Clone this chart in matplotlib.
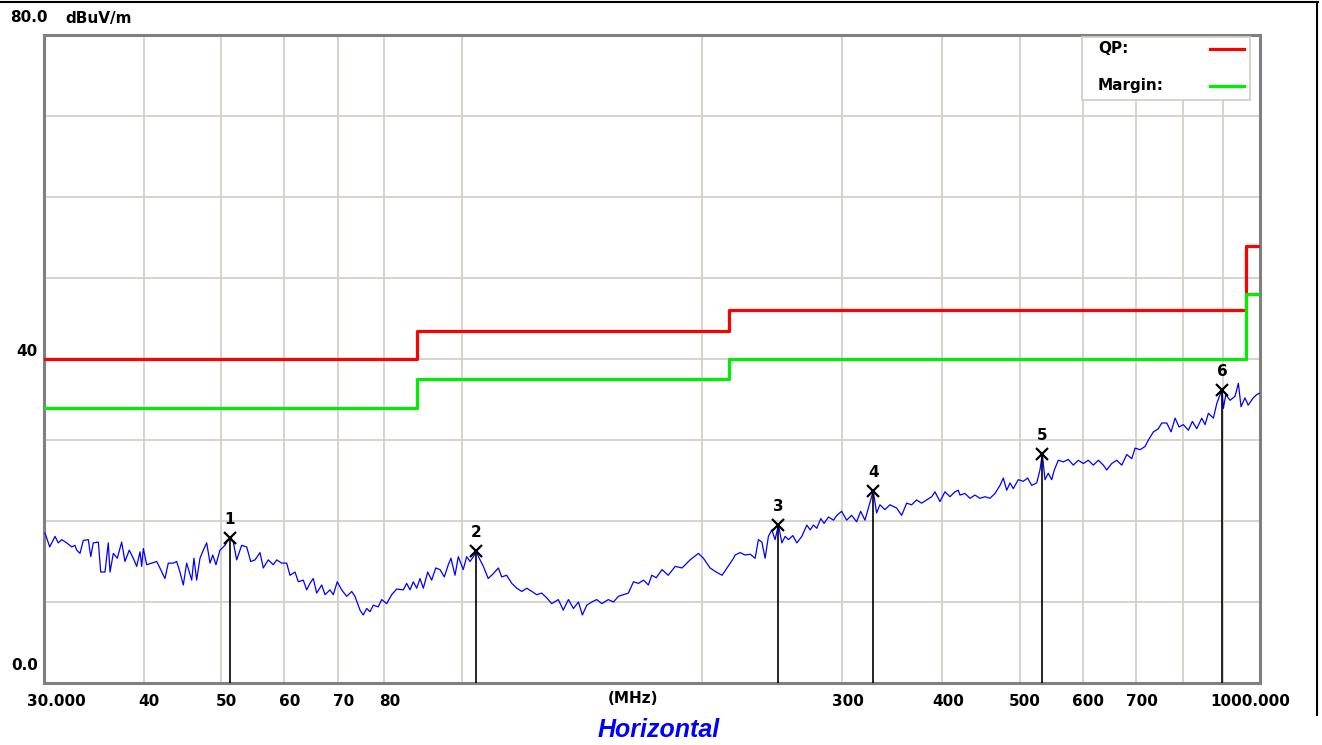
import matplotlib
matplotlib.use("Agg")
import matplotlib.pyplot as plt
from matplotlib.lines import Line2D
from matplotlib.patches import Rectangle
from matplotlib.transforms import offset_copy

# ===============================
# Data
# ===============================
trace_freq = [
    30.09, 30.5, 30.97, 31.26, 31.57, 32.03, 32.5, 32.8, 32.97, 33.28, 33.6, 34.09, 34.33, 34.58,
    35.09, 35.33, 35.77, 36.11, 36.29, 36.64, 37.06, 37.53, 37.89, 38.36, 38.81, 39.19, 39.57,
    39.76, 39.95, 40.34, 40.92, 41.52, 41.91, 42.52, 42.93, 43.55, 43.98, 44.4, 44.83, 45.27,
    45.93, 46.23, 46.59, 47.04, 47.49, 47.96, 48.42, 48.8, 49.26, 49.83, 50.56, 51.19, 51.78,
    52.29, 53.05, 53.82, 54.45, 55.13, 55.93, 56.46, 57.28, 58.11, 58.69, 59.54, 60.4, 60.98,
    61.87, 62.46, 63.36, 63.99, 64.6, 65.22, 65.86, 66.82, 67.46, 68.44, 69.09, 69.89, 70.78, 71.81,
    72.86, 73.55, 74.62, 75.33, 76.07, 76.8, 77.53, 78.66, 79.44, 80.59, 81.76, 82.95, 84.55,
    85.38, 86.2, 87.02, 87.88, 88.72, 89.57, 90.71, 91.76, 92.83, 93.99, 95.16, 96.26, 97.01,
    98.14, 99.08, 100.5, 101.5, 102.5, 103.8, 104.3, 105.0, 106.5, 108.0, 109.6, 111.2, 112.3,
    113.9, 115.6, 117.3, 119.0, 120.7, 122.5, 124.2, 126.0, 127.9, 129.7, 132.2, 134.1, 136.1,
    138.1, 140.1, 141.7, 143.5, 145.6, 147.7, 149.9, 152.7, 155.0, 157.2, 159.5, 161.8, 164.2,
    166.6, 169.0, 171.4, 173.1,
    175.3, 178.3, 181.5, 185.2, 188.9, 193.3, 198.0, 200.9, 204.8, 208.4, 212.0, 215.7, 219.1,
    220.1, 223.3, 226.6, 229.9, 233.2, 235.4, 237.8, 240.0, 242.3, 244.7, 247.0, 249.4, 251.9,
    254.3, 256.7, 260.0, 263.0, 266.8, 270.7, 273.3, 275.9, 278.6, 281.8, 284.5, 288.1, 292.3,
    295.2, 299.3, 303.6, 308.0, 312.5, 316.1, 320.1, 324.1, 327.8, 331.0, 334.2, 339.1, 344.0,
    350.7, 355.8, 361.0, 366.2, 371.5, 376.9, 382.4, 388.0, 391.7, 397.4, 403.1, 409.0, 414.9, 418.9,
    421.0, 427.1, 433.3, 439.6, 446.0, 452.5, 459.0, 465.7, 472.5, 477.0, 481.7, 486.3, 490.9,
    498.1, 505.3, 511.7, 517.7, 525.2, 530.2, 533.8, 537.9, 543.1, 548.4, 552.6, 559.0, 567.1,
    575.3, 583.7, 592.2, 600.8, 609.5, 618.4, 627.4, 636.5, 642.8, 652.1, 661.6, 671.2, 681.0,
    690.9, 697.5, 707.6, 717.9, 724.8, 735.3, 746.0, 753.3, 764.3, 773.8, 782.8, 791.9, 801.7,
    813.4, 822.8, 833.3, 845.4, 853.5, 861.7, 874.2, 882.8, 896.0, 899.8, 906.0, 917.3, 930.6,
    939.5, 946.8, 957.5, 966.6, 980.7, 990.4, 1000.0,
]
trace_level = [
    18.5, 16.8, 18.1, 17.3, 17.7, 17.3, 16.8, 17.0, 16.4, 16.0, 17.6, 17.7, 15.6, 17.3,
    17.4, 13.7, 13.7, 17.3, 13.7, 16.0, 15.4, 17.4, 15.0, 16.4, 15.4, 14.4, 16.2,
    14.4, 16.6, 14.6, 14.8, 15.0, 14.2, 12.9, 14.8, 14.8, 15.0, 13.7, 12.1, 14.8,
    12.7, 15.4, 12.7, 15.4, 16.4, 17.3, 14.8, 15.8, 14.6, 16.4, 17.0, 17.9, 17.4,
    15.2, 17.0, 16.8, 15.0, 15.2, 16.1, 14.2, 15.2, 14.6, 15.2, 14.8, 14.8, 13.3,
    13.7, 12.5, 12.7, 11.5, 12.3, 12.9, 11.1, 12.1, 10.9, 11.5, 10.9, 12.5, 11.5, 10.7,
    11.3, 10.7, 9.0, 8.4, 9.2, 8.8, 9.6, 9.4, 10.3, 9.8, 10.9, 11.6, 11.5,
    12.3, 11.5, 12.5, 11.7, 12.9, 11.7, 13.7, 12.7, 14.2, 14.0, 13.1, 14.6, 15.4,
    13.3, 15.6, 14.0, 15.6, 15.0, 15.8, 16.3, 15.6, 14.4, 12.9, 13.5, 14.2, 13.1,
    13.3, 12.3, 11.7, 11.3, 11.7, 11.3, 10.9, 11.1, 10.5, 9.8, 10.3, 9.0, 10.3,
    9.2, 10.0, 8.4, 9.6, 10.0, 10.3, 9.8, 10.3, 10.0, 10.7, 10.9, 11.1, 12.5,
    12.3, 12.7, 12.1, 13.3,
    13.0, 14.0, 13.3, 14.4, 14.2, 15.2, 16.0, 15.4, 14.2, 13.7, 13.3, 14.4, 15.4,
    15.8, 16.1, 15.8, 15.9, 15.4, 17.7, 17.4, 15.4, 18.1, 18.9, 17.7, 19.5, 17.3,
    18.1, 17.7, 18.2, 17.3, 18.1, 19.5, 18.9, 19.5, 19.1, 20.3, 19.7, 20.5, 20.1,
    20.7, 21.2, 20.1, 20.7, 19.9, 21.2, 20.1, 22.0, 23.7, 21.0, 22.0, 21.4, 22.0,
    21.6, 20.7, 22.2, 22.0, 22.6, 22.2, 22.6, 23.0, 23.6, 22.4, 23.6, 23.0, 23.6, 23.8,
    23.2, 23.4, 22.8, 23.2, 22.8, 23.0, 22.8, 23.4, 24.4, 25.3, 23.8, 24.7, 24.0,
    25.1, 24.9, 25.3, 24.4, 24.7, 26.3, 28.3, 25.1, 25.9, 25.1, 26.3, 27.5, 27.3,
    27.6, 26.9, 27.5, 27.1, 27.5, 26.9, 27.5, 26.9, 26.3, 27.1, 27.5, 26.9, 28.2,
    27.7, 29.0, 28.8, 29.2, 30.0, 31.0, 31.4, 32.1, 32.1, 31.0, 32.7, 31.6, 31.9,
    31.2, 32.3, 31.4, 32.7, 31.9, 33.3, 32.7, 34.5, 36.2, 33.9, 35.6, 34.9, 35.4,
    37.0, 34.1, 35.2, 34.3, 35.2, 35.6, 35.8,
]

# limit lines (step edges)
limit_freq = [30, 88, 216, 960, 1000]
qp_level = [40.0, 43.5, 46.0, 54.0, 54.0]
margin_level = [34.0, 37.5, 40.0, 48.0, 48.0]

# peak markers
marker_freq = [51.3, 104.3, 249.4, 327.8, 533.8, 896.0]
marker_level = [17.9, 16.3, 19.5, 23.7, 28.3, 36.2]
marker_names = ["1", "2", "3", "4", "5", "6"]

grid_freq = [40, 50, 60, 70, 80, 100, 200, 300, 400, 500, 600, 700, 800, 900]
tick_freq = [30, 40, 50, 60, 70, 80, 300, 400, 500, 600, 700, 1000]
tick_text = ["30.000", "40", "50", "60", "70", "80", "300", "400", "500", "600", "700", "1000.000"]

# ===============================
# Figure
# ===============================
fig = plt.figure(figsize=(13.22, 7.45), dpi=100)
ax = fig.add_axes([44 / 1322, 62 / 745, 1216 / 1322, 648 / 745])
ax.set_xscale("log")
ax.set_xlim(30, 1000)
ax.set_ylim(0, 80)

grid_col = "#d4d0c8"
for g in grid_freq:
    ax.axvline(g, color=grid_col, lw=1.3, zorder=1)
for lv in range(10, 80, 10):
    ax.axhline(lv, color=grid_col, lw=1.3, zorder=1)

ax.plot(limit_freq, qp_level, drawstyle="steps-post", color="#ff0000", lw=2.3, zorder=3)
ax.plot(limit_freq, margin_level, drawstyle="steps-post", color="#00ee00", lw=2.3, zorder=3)

ax.plot(trace_freq, trace_level, color="#0000ff", lw=0.9, zorder=4)

for f, lv, name in zip(marker_freq, marker_level, marker_names):
    ax.plot([f, f], [0, lv], color="black", lw=1.2, zorder=5)
    ax.plot(f, lv, marker="x", color="black", ms=9, mew=1.6, zorder=6)
    ax.annotate(name, (f, lv), xytext=(0, 8), textcoords="offset points",
                ha="center", va="bottom", fontsize=11, fontweight="bold", zorder=6)

# frame and ticks
for s in ax.spines.values():
    s.set_color("#808080")
    s.set_linewidth(2.2)
ax.set_xticks([])
ax.set_yticks([])
ax.minorticks_off()
ax.tick_params(which="both", length=0)

lab_tr = offset_copy(ax.get_xaxis_transform(), fig=fig, x=4, y=-8, units="points")
for f, t in zip(tick_freq, tick_text):
    ha = "center"
    if f == 30:
        ha = "left"
        tr = offset_copy(ax.get_xaxis_transform(), fig=fig, x=-12, y=-8, units="points")
    elif f == 1000:
        tr = offset_copy(ax.get_xaxis_transform(), fig=fig, x=-7, y=-8, units="points")
    else:
        tr = lab_tr
    ax.text(f, 0, t, transform=tr, ha=ha, va="top", fontsize=11, fontweight="bold")
ax.text(0.4845, -0.0125, "(MHz)", transform=ax.transAxes, ha="center", va="top",
        fontsize=11, fontweight="bold")

ax.text(-0.005, 40, "40", transform=ax.get_yaxis_transform(), ha="right", va="bottom",
        fontsize=11, fontweight="bold")
ax.text(-0.005, 1.2, "0.0", transform=ax.get_yaxis_transform(), ha="right", va="bottom",
        fontsize=11, fontweight="bold")
fig.text(10 / 1322, 1 - 18 / 745, "80.0", ha="left", va="center", fontsize=11, fontweight="bold")
fig.text(65 / 1322, 1 - 18 / 745, "dBuV/m", ha="left", va="center", fontsize=11, fontweight="bold")

# legend box
ax.add_patch(Rectangle((0.8536, 0.8997), 0.1382, 0.0972, transform=ax.transAxes,
                       facecolor="white", edgecolor=grid_col, lw=1.3, zorder=7))
ax.text(0.8668, 0.9784, "QP:", transform=ax.transAxes, ha="left", va="center",
        fontsize=11, fontweight="bold", zorder=8)
ax.text(0.8668, 0.9228, "Margin:", transform=ax.transAxes, ha="left", va="center",
        fontsize=11, fontweight="bold", zorder=8)
ax.plot([0.9589, 0.9868], [0.9784, 0.9784], transform=ax.transAxes, color="#ff0000", lw=2.3, zorder=8)
ax.plot([0.9589, 0.9868], [0.9213, 0.9213], transform=ax.transAxes, color="#00ee00", lw=2.3, zorder=8)

fig.text(659 / 1322, 1 - 730 / 745, "Horizontal", ha="center", va="center", color="#0000ff",
         fontsize=18, fontweight="bold", fontstyle="italic", family="Liberation Sans")

# outer window border
fig.add_artist(Line2D([0, 1318 / 1322], [1 - 2 / 745, 1 - 2 / 745], transform=fig.transFigure,
                      color="black", lw=1.5))
fig.add_artist(Line2D([1317 / 1322, 1317 / 1322], [1 - 2 / 745, 1 - 715 / 745],
                      transform=fig.transFigure, color="black", lw=1.5))

fig.savefig("out.png", dpi=100)
